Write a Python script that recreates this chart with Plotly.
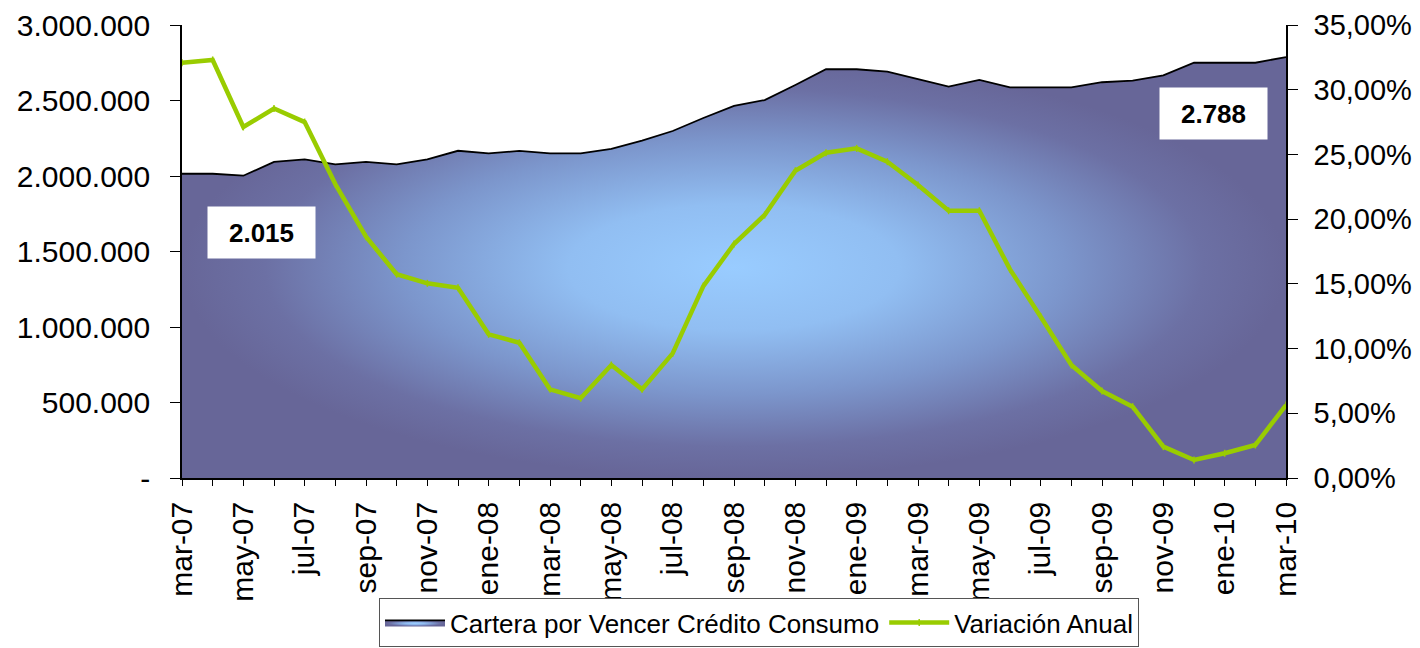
import plotly.graph_objects as go

months = ["mar-07", "abr-07", "may-07", "jun-07", "jul-07", "ago-07", "sep-07", "oct-07", "nov-07", "dic-07",
          "ene-08", "feb-08", "mar-08", "abr-08", "may-08", "jun-08", "jul-08", "ago-08", "sep-08", "oct-08",
          "nov-08", "dic-08", "ene-09", "feb-09", "mar-09", "abr-09", "may-09", "jun-09", "jul-09", "ago-09",
          "sep-09", "oct-09", "nov-09", "dic-09", "ene-10", "feb-10", "mar-10"]

cartera = [2015000, 2015000, 2002000, 2093000, 2110000, 2077000, 2093000, 2077000, 2110000, 2167000,
           2150000, 2166000, 2150000, 2150000, 2179000, 2234000, 2298000, 2384000, 2464000, 2503000,
           2603000, 2708000, 2707000, 2691000, 2641000, 2592000, 2636000, 2587000, 2587000, 2587000,
           2621000, 2631000, 2667000, 2750000, 2750000, 2750000, 2788000]

variacion = [0.3209, 0.3230, 0.2712, 0.2855, 0.2750, 0.2271, 0.1864, 0.1574, 0.1504, 0.1470,
             0.1110, 0.1045, 0.0685, 0.0616, 0.0873, 0.0685, 0.0963, 0.1483, 0.1808, 0.2032,
             0.2374, 0.2513, 0.2547, 0.2444, 0.2264, 0.2065, 0.2065, 0.1612, 0.1246, 0.0873,
             0.0672, 0.0551, 0.0242, 0.0139, 0.0191, 0.0255, 0.0564]

left_ticks = [0, 500000, 1000000, 1500000, 2000000, 2500000, 3000000]
left_ticktext = ["-", "500.000", "1.000.000", "1.500.000", "2.000.000", "2.500.000", "3.000.000"]
right_ticks = [0, 0.05, 0.10, 0.15, 0.20, 0.25, 0.30, 0.35]
right_ticktext = ["0,00%", "5,00%", "10,00%", "15,00%", "20,00%", "25,00%", "30,00%", "35,00%"]
x_ticktext = [m if i % 2 == 0 else "" for i, m in enumerate(months)]

FONT = "Liberation Sans, Arial, sans-serif"


def fmt_miles(v):
    # 2015000 -> "2.015"
    return f"{v / 1000:,.0f}".replace(",", ".")


fig = go.Figure()

fig.add_trace(go.Scatter(
    x=months, y=cartera, name="Cartera por Vencer Crédito Consumo",
    mode="lines", fill="tozeroy",
    line=dict(color="black", width=1.8),
    fillgradient=dict(type="radial",
                      colorscale=[[0, "rgb(153,204,255)"], [0.3, "rgb(145,190,242)"],
                                  [0.6, "rgb(124,150,204)"], [0.85, "rgb(108,112,164)"],
                                  [1, "rgb(103,102,152)"]]),
    yaxis="y",
))

fig.add_trace(go.Scatter(
    x=months, y=variacion, name="Variación Anual",
    mode="lines+markers",
    line=dict(color="#99CC00", width=4.5),
    marker=dict(color="#99CC00", size=5, symbol="line-ns-open", line=dict(color="#99CC00", width=1.5)),
    yaxis="y2",
))

for txt, px, py in [(fmt_miles(cartera[0]), 0.072, 0.542), (fmt_miles(cartera[-1]), 0.934, 0.805)]:
    fig.add_annotation(
        text=f"<b>{txt}</b>", xref="paper", yref="paper", x=px, y=py,
        xanchor="center", yanchor="middle",
        showarrow=False, bgcolor="white", width=107, height=51, borderpad=0,
        font=dict(family=FONT, size=26, color="black"),
        align="center", valign="middle",
    )

fig.update_layout(
    width=1404, height=640,
    margin=dict(l=174, r=126, t=17, b=170),
    paper_bgcolor="white", plot_bgcolor="white",
    separators=",.",
    font=dict(family=FONT, size=30, color="black"),
    showlegend=True,
    legend=dict(
        orientation="h", xref="container", yref="container",
        x=0.5349, xanchor="center", y=0.0781, yanchor="top",
        bordercolor="#555555", borderwidth=1, bgcolor="white",
        font=dict(family=FONT, size=26, color="black"),
        itemwidth=60, tracegroupgap=0,
    ),
    xaxis=dict(
        type="category", tickmode="array", tickvals=months, ticktext=x_ticktext,
        tickangle=-90, ticks="outside", ticklen=6, tickcolor="black",
        showline=True, linecolor="black", linewidth=1.5, showgrid=False,
        range=[0, len(months) - 1], zeroline=False, automargin=False,
        ticklabelstandoff=4,
        tickfont=dict(family=FONT, size=30),
    ),
    yaxis=dict(
        range=[0, 3000000], tickmode="array", tickvals=left_ticks, ticktext=left_ticktext,
        ticks="outside", ticklen=10, tickcolor="black", showline=True, linecolor="black",
        linewidth=1.5, showgrid=False, zeroline=False, automargin=False,
        ticklabelstandoff=14,
        tickfont=dict(family=FONT, size=30),
    ),
    yaxis2=dict(
        range=[0, 0.35], tickmode="array", tickvals=right_ticks, ticktext=right_ticktext,
        overlaying="y", side="right",
        ticks="outside", ticklen=10, tickcolor="black", showline=True, linecolor="black",
        linewidth=1.5, showgrid=False, zeroline=False, automargin=False,
        ticklabelstandoff=10,
        tickfont=dict(family=FONT, size=29),
    ),
)

fig.write_html("out.html")
